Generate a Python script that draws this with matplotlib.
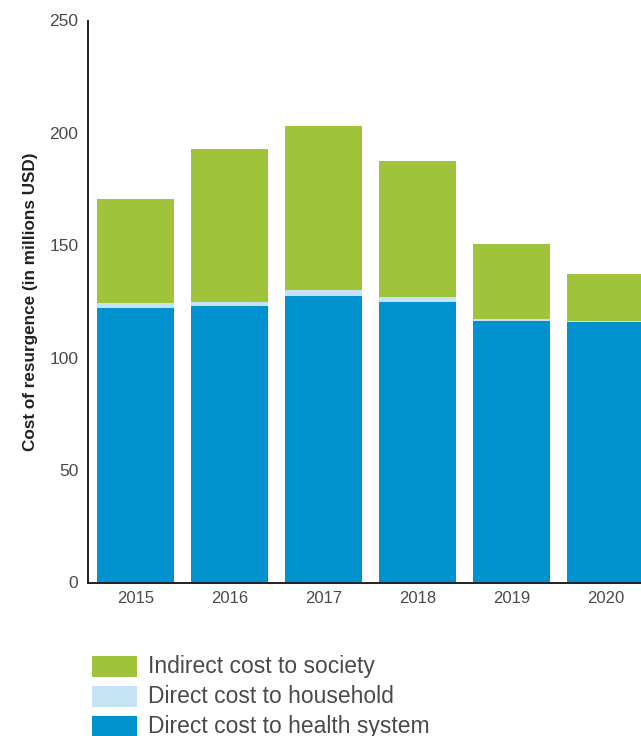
import matplotlib.pyplot as plt
from matplotlib.patches import Rectangle

plt.rcParams["font.family"] = ["Liberation Sans", "DejaVu Sans"]

years = ["2015", "2016", "2017", "2018", "2019", "2020"]
health_system = [122.0, 122.9, 127.3, 124.7, 116.2, 115.8]
household = [2.2, 1.8, 2.7, 2.2, 0.9, 0.6]
society = [46.2, 68.0, 72.9, 60.4, 33.3, 20.7]

GREEN = "#9fc33b"
LIGHT = "#c5e3f5"
BLUE = "#0092cf"
TEXT = "#4a4a4a"

W, H = 641, 736
fig = plt.figure(figsize=(W / 100, H / 100), dpi=100)
ax = fig.add_axes([88 / W, (H - 582.5) / H, (W - 88) / W, 562 / H])

x = range(len(years))
ax.bar(x, health_system, width=0.82, color=BLUE)
ax.bar(x, household, width=0.82, bottom=health_system, color=LIGHT)
soc_bottom = [a + b for a, b in zip(health_system, household)]
ax.bar(x, society, width=0.82, bottom=soc_bottom, color=GREEN)

ax.set_xlim(-0.505, 5.378)
ax.set_ylim(0, 250)
ax.set_xticks(list(x))
ax.set_xticklabels(years)
ax.set_yticks([0, 50, 100, 150, 200, 250])
ax.tick_params(axis="x", length=0, labelsize=12, colors=TEXT, pad=6)
ax.tick_params(axis="y", length=0, labelsize=12.5, colors=TEXT, pad=7)

for side in ("top", "right"):
    ax.spines[side].set_visible(False)
for side in ("left", "bottom"):
    ax.spines[side].set_color("#231f20")
    ax.spines[side].set_linewidth(1.4)

ax.set_ylabel("Cost of resurgence (in millions USD)", fontsize=12.3,
              fontweight="bold", color="#222222")
ax.yaxis.set_label_coords(-0.090, 0.5)

# legend block under the chart
entries = [(GREEN, "Indirect cost to society"),
           (LIGHT, "Direct cost to household"),
           (BLUE, "Direct cost to health system")]
for i, (c, lbl) in enumerate(entries):
    top = 656 + i * 30
    fig.patches.append(Rectangle((92 / W, (H - top - 21) / H), 45 / W, 21 / H,
                                 transform=fig.transFigure, facecolor=c,
                                 edgecolor="none"))
    fig.text(148 / W, (H - top - 10.5) / H, lbl, fontsize=16.5, color=TEXT,
             va="center", ha="left")

fig.savefig("out.png", dpi=100)
